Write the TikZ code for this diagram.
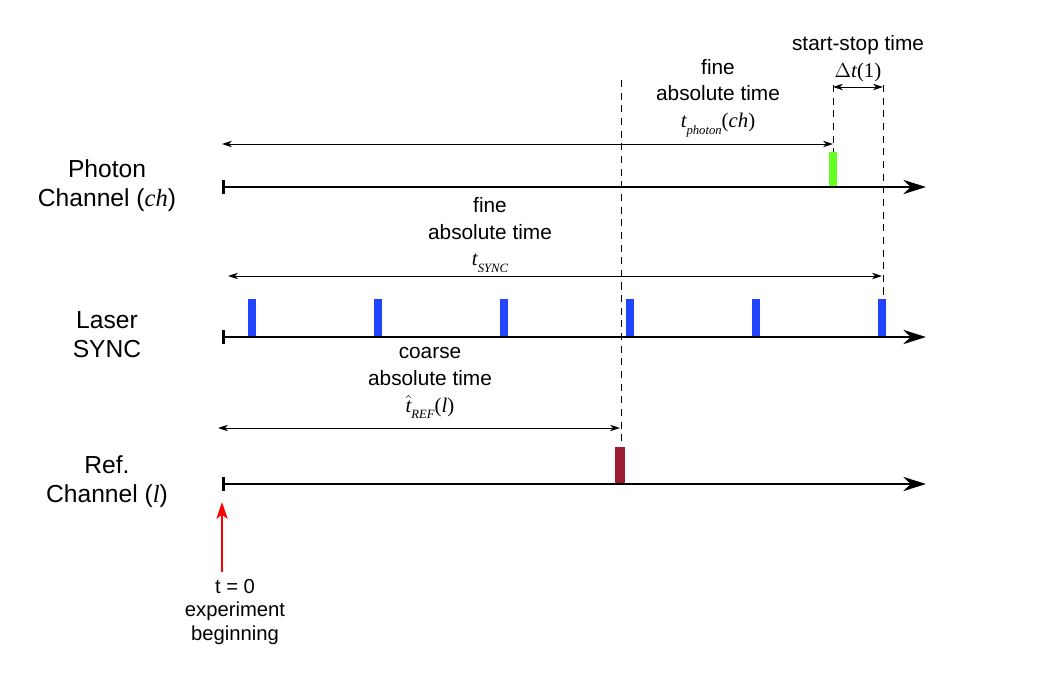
\documentclass[tikz,border=0pt]{standalone}
\usepackage{fontspec}
\setmainfont{Liberation Sans}
\newfontfamily\tms{Liberation Serif}
\usetikzlibrary{arrows.meta}

\definecolor{photongreen}{RGB}{102,255,34}
\definecolor{syncblue}{RGB}{34,68,255}
\definecolor{refred}{RGB}{155,27,48}

\tikzset{
  timeaxis/.style={line width=1.8pt, {Bar[width=10pt]}-{Stealth[length=16pt,width=10pt,inset=5pt]}},
  span/.style={line width=0.7pt, {Stealth[length=7pt,width=4.5pt,inset=2pt]}-{Stealth[length=7pt,width=4.5pt,inset=2pt]}},
  marker/.style={dash pattern=on 5pt off 4pt, line width=0.7pt},
  pulse/.style={draw=none, inner sep=0pt, anchor=south, minimum width=5.5pt, minimum height=26pt},
  lbl/.style={align=center, font=\fontsize{14.8}{19}\selectfont},
  chname/.style={align=center, font=\fontsize{17.5}{20.5}\selectfont},
}
\newcommand{\ti}[1]{{\tms\itshape #1}}

\begin{document}
\begin{tikzpicture}[x=0.025cm, y=-0.025cm]
	\useasboundingbox (0,0) rectangle (1052,678);

	% channel names
	\node[chname] (phname) at (107,186) {Photon\\Channel ({\tms\itshape ch})};
	\node[chname] (syname) at (107,335) {Laser\\SYNC};
	\node[chname] (rfname) at (107,482) {Ref.\\Channel ({\tms\itshape l})};

	% time axes
	\coordinate (ph0) at (222,187);
	\coordinate (ph1) at (926,187);
	\coordinate (sy0) at (222,337);
	\coordinate (sy1) at (926,337);
	\coordinate (rf0) at (222,484);
	\coordinate (rf1) at (926,484);
	\draw[timeaxis] (ph0) -- (ph1);
	\draw[timeaxis] (sy0) -- (sy1);
	\draw[timeaxis] (rf0) -- (rf1);

	% pulses
	\node[pulse, fill=photongreen, minimum height=24pt] (photon) at (833,186) {};
	\foreach \i/\x in {1/252,2/378,3/504,4/630,5/756,6/882}
		\node[pulse, fill=syncblue] (s\i) at (\x,336) {};
	\node[pulse, fill=refred, minimum width=7pt, minimum height=25.5pt] (ref) at (620,483) {};

	% dashed markers
	\coordinate (m1) at (621,80);
	\coordinate (m2) at (833,85);
	\coordinate (m3) at (883,85);
	\draw[marker] (m1) -- (m1 |- ref.north);
	\draw[marker] (m2) -- (photon.north);
	\draw[marker] (m3) -- (m3 |- s6.north);

	% spans
	\coordinate (a0) at (222,144);
	\coordinate (b0) at (228,276);
	\coordinate (c0) at (218,428);
	\coordinate (d0) at (833,87);
	\draw[span] (a0) -- (photon.north |- a0);
	\draw[span] (b0) -- (s6.north |- b0);
	\draw[span] (c0) -- (ref.north |- c0);
	\draw[span] (d0) -- (m3 |- d0);

	% span labels
	\node[lbl] (phspan) at (718,98) {fine\\absolute time\\\ti{t}\raisebox{-0.6ex}{\fontsize{9}{9}\tms\itshape photon}{\tms(\itshape ch\upshape)}};
	\node[lbl] (stspan) at (858,59) {start-stop time\\{\tms$\Delta$\itshape t\upshape(1)}};
	\node[lbl] (syspan) at (490,235) {fine\\absolute time\\\ti{t}\raisebox{-0.6ex}{\fontsize{9}{9}\tms\itshape SYNC}};
	\node[lbl] (rfspan) at (430,383) {coarse\\absolute time\\$\hat{\hbox{\tms\itshape t}}$\raisebox{-0.6ex}{\fontsize{9}{9}\tms\itshape REF}{\tms(\itshape l\upshape)}};

	% experiment start
	\coordinate (go0) at (222,572);
	\coordinate (go1) at (222,502);
	\draw[red, line width=1.4pt, -{Stealth[length=12pt,width=8pt,inset=3pt]}] (go0) -- (go1);
	\node[lbl, font=\fontsize{14.4}{17}\selectfont] (start) at (235,612) {t = 0\\experiment\\beginning};
\end{tikzpicture}
\end{document}
